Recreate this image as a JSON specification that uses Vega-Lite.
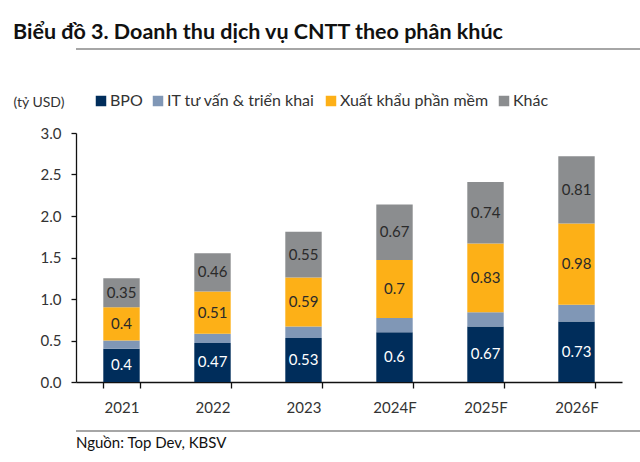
{
  "$schema": "https://vega.github.io/schema/vega-lite/v6.json",
  "padding": {"left": 13, "top": 21, "right": 13, "bottom": 4},
  "background": "white",
  "config": {
    "font": "Lato",
    "view": {"stroke": null},
    "concat": {"spacing": 10},
    "axis": {"labelFont": "Lato", "titleFont": "Lato"},
    "legend": {"labelFont": "Lato"}
  },
  "title": {
    "text": "Biểu đồ 3. Doanh thu dịch vụ CNTT theo phân khúc",
    "anchor": "start",
    "fontSize": 21.5,
    "fontWeight": "bold",
    "color": "#111111",
    "offset": 0
  },
  "resolve": {"scale": {"color": "independent"}, "legend": {"color": "independent"}},
  "datasets": {
    "rev": [
      {"year": "2021", "segment": "BPO", "k": 1, "value": 0.4},
      {"year": "2021", "segment": "IT tư vấn & triển khai", "k": 2, "value": 0.1},
      {"year": "2021", "segment": "Xuất khẩu phần mềm", "k": 3, "value": 0.4},
      {"year": "2021", "segment": "Khác", "k": 4, "value": 0.35},
      {"year": "2022", "segment": "BPO", "k": 1, "value": 0.47},
      {"year": "2022", "segment": "IT tư vấn & triển khai", "k": 2, "value": 0.11},
      {"year": "2022", "segment": "Xuất khẩu phần mềm", "k": 3, "value": 0.51},
      {"year": "2022", "segment": "Khác", "k": 4, "value": 0.46},
      {"year": "2023", "segment": "BPO", "k": 1, "value": 0.53},
      {"year": "2023", "segment": "IT tư vấn & triển khai", "k": 2, "value": 0.14},
      {"year": "2023", "segment": "Xuất khẩu phần mềm", "k": 3, "value": 0.59},
      {"year": "2023", "segment": "Khác", "k": 4, "value": 0.55},
      {"year": "2024F", "segment": "BPO", "k": 1, "value": 0.6},
      {"year": "2024F", "segment": "IT tư vấn & triển khai", "k": 2, "value": 0.17},
      {"year": "2024F", "segment": "Xuất khẩu phần mềm", "k": 3, "value": 0.7},
      {"year": "2024F", "segment": "Khác", "k": 4, "value": 0.67},
      {"year": "2025F", "segment": "BPO", "k": 1, "value": 0.67},
      {"year": "2025F", "segment": "IT tư vấn & triển khai", "k": 2, "value": 0.17},
      {"year": "2025F", "segment": "Xuất khẩu phần mềm", "k": 3, "value": 0.83},
      {"year": "2025F", "segment": "Khác", "k": 4, "value": 0.74},
      {"year": "2026F", "segment": "BPO", "k": 1, "value": 0.73},
      {"year": "2026F", "segment": "IT tư vấn & triển khai", "k": 2, "value": 0.2},
      {"year": "2026F", "segment": "Xuất khẩu phần mềm", "k": 3, "value": 0.98},
      {"year": "2026F", "segment": "Khác", "k": 4, "value": 0.81}
    ],
    "blank": [{"a": 1}]
  },
  "vconcat": [
    {
      "spacing": 39,
      "resolve": {"scale": {"color": "independent"}, "legend": {"color": "independent"}},
      "vconcat": [
        {
          "width": 614,
          "height": 2,
          "view": {"fill": "#a6a6a6", "stroke": null},
          "data": {"name": "blank"},
          "mark": {"type": "text"},
          "encoding": {"text": {"value": ""}}
        },
        {
          "width": 546,
          "height": 249,
          "data": {"name": "rev"},
          "encoding": {
            "x": {
              "field": "year",
              "type": "nominal",
              "sort": null,
              "scale": {"paddingInner": 0.6, "paddingOuter": 0.3},
              "axis": {
                "title": null,
                "labelAngle": 0,
                "labelFontSize": 15,
                "labelColor": "#333333",
                "labelPadding": 12,
                "tickBand": "extent",
                "tickSize": 6,
                "tickColor": "#111111",
                "domainColor": "#111111",
                "domainWidth": 1.3,
                "tickWidth": 1.3
              }
            },
            "y": {
              "field": "value",
              "type": "quantitative",
              "stack": "zero",
              "scale": {"domain": [0, 3], "nice": false},
              "axis": {
                "title": "(tỷ USD)",
                "titleAngle": 0,
                "titleAlign": "left",
                "titleBaseline": "middle",
                "titleX": -63,
                "titleY": -31,
                "titleFontSize": 14,
                "titleFontWeight": "normal",
                "titleColor": "#333333",
                "values": [0, 0.5, 1, 1.5, 2, 2.5, 3],
                "format": ".1f",
                "grid": false,
                "labelFontSize": 15,
                "labelColor": "#333333",
                "labelPadding": 10,
                "tickSize": 5,
                "tickColor": "#111111",
                "domainColor": "#111111",
                "domainWidth": 1.3,
                "tickWidth": 1.3
              }
            },
            "order": {"field": "k", "type": "quantitative"}
          },
          "layer": [
            {
              "mark": {"type": "bar"},
              "encoding": {
                "color": {
                  "field": "segment",
                  "type": "nominal",
                  "scale": {
                    "domain": ["BPO", "IT tư vấn & triển khai", "Xuất khẩu phần mềm", "Khác"],
                    "range": ["#002d5b", "#8097b6", "#fdb017", "#8b8d8f"]
                  },
                  "legend": {
                    "title": null,
                    "orient": "none",
                    "direction": "horizontal",
                    "legendX": 17,
                    "legendY": -40,
                    "symbolType": "square",
                    "symbolSize": 110,
                    "symbolStrokeWidth": 0,
                    "labelFontSize": 16,
                    "labelColor": "#333333",
                    "labelOffset": 1,
                    "columnPadding": 7
                  }
                }
              }
            },
            {
              "mark": {"type": "text", "fontSize": 15, "baseline": "middle"},
              "encoding": {
                "y": {
                  "field": "value",
                  "type": "quantitative",
                  "stack": "zero",
                  "bandPosition": 0.5
                },
                "detail": {"field": "segment"},
                "text": {
                  "condition": {"test": "datum.segment === 'IT tư vấn & triển khai'", "value": ""},
                  "field": "value",
                  "type": "quantitative",
                  "format": "~g"
                },
                "color": {
                  "condition": {"test": "datum.segment === 'BPO'", "value": "#ffffff"},
                  "value": "#2a2a2a"
                }
              }
            }
          ]
        }
      ]
    },
    {
      "width": 614,
      "height": 2,
      "view": {"fill": "#a6a6a6", "stroke": null},
      "data": {"name": "blank"},
      "mark": {"type": "text"},
      "encoding": {"text": {"value": ""}},
      "title": {
        "text": "Nguồn: Top Dev, KBSV",
        "orient": "bottom",
        "anchor": "start",
        "fontSize": 15,
        "fontWeight": "normal",
        "color": "#111111",
        "offset": 0
      }
    }
  ]
}
